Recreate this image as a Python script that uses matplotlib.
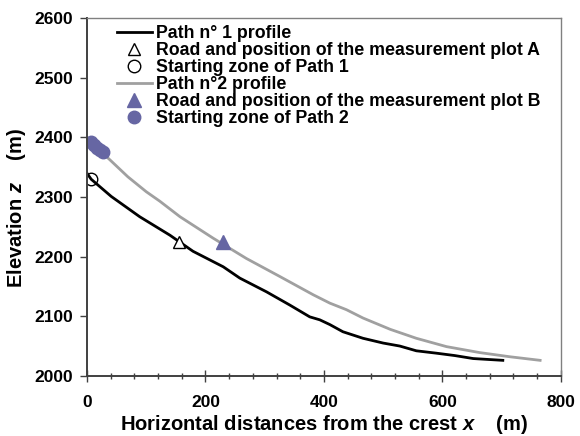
import matplotlib
matplotlib.use('Agg')
import matplotlib.pyplot as plt
from matplotlib.ticker import MultipleLocator

plt.rcParams['font.family'] = 'Liberation Sans'
plt.rcParams['font.weight'] = 'bold'
plt.rcParams['mathtext.fontset'] = 'custom'
plt.rcParams['mathtext.bfit'] = 'Liberation Sans:bold:italic'
plt.rcParams['mathtext.it'] = 'Liberation Sans:bold:italic'

# path 1 profile (black)
path1_x = [0, 7, 41, 89, 140, 179, 230, 258, 303, 342, 376, 393, 410, 432,
           466, 500, 528, 556, 590, 621, 652, 702]
path1_z = [2340, 2330, 2301, 2267, 2236, 2209, 2183, 2164, 2141, 2119, 2099,
           2094, 2086, 2074, 2063, 2055, 2050, 2042, 2038, 2034, 2029, 2026]

# path 2 profile (grey)
path2_x = [0, 12, 36, 69, 100, 123, 157, 213, 269, 325, 382, 410, 438, 466,
           512, 556, 607, 663, 714, 765]
path2_z = [2393, 2384, 2365, 2334, 2309, 2293, 2267, 2231, 2197, 2167, 2136,
           2122, 2111, 2097, 2078, 2063, 2049, 2039, 2032, 2026]

# markers
plotA_x, plotA_z = [155], [2224]
start1_x, start1_z = [7], [2330]
plotB_x, plotB_z = [229], [2224]
start2_x = [7, 12, 17, 22, 27]
start2_z = [2392, 2388, 2383, 2379, 2375]

purple = '#6666a3'

fig = plt.figure(figsize=(5.8, 4.36), dpi=100)
ax = fig.add_axes([0.150, 0.138, 0.817, 0.820])

ax.plot(path1_x, path1_z, color='black', lw=2, label='Path n° 1 profile')
ax.plot(plotA_x, plotA_z, ls='none', marker='^', ms=9, mfc='white', mec='black',
        mew=1, label='Road and position of the measurement plot A')
ax.plot(start1_x, start1_z, ls='none', marker='o', ms=9, mfc='none', mec='black',
        mew=1, label='Starting zone of Path 1')
ax.plot(path2_x, path2_z, color='#a0a0a0', lw=2, label='Path n°2 profile')
ax.plot(plotB_x, plotB_z, ls='none', marker='^', ms=10, color=purple,
        label='Road and position of the measurement plot B')
ax.plot(start2_x, start2_z, ls='none', marker='o', ms=9, color=purple,
        label='Starting zone of Path 2')

ax.set_xlim(0, 800)
ax.set_ylim(2000, 2600)
ax.xaxis.set_major_locator(MultipleLocator(200))
ax.xaxis.set_minor_locator(MultipleLocator(40))
ax.yaxis.set_major_locator(MultipleLocator(100))

ax.tick_params(axis='x', which='major', direction='inout', length=8, width=1,
               pad=10, labelsize=12.5, color='#404040')
ax.tick_params(axis='x', which='minor', direction='inout', length=5, width=1,
               color='#404040')
ax.tick_params(axis='y', which='major', direction='out', length=5, width=1,
               pad=5, labelsize=12.5, color='#404040')

for side in ['left', 'bottom']:
    ax.spines[side].set_color('#404040')
    ax.spines[side].set_linewidth(1.4)
for side in ['top', 'right']:
    ax.spines[side].set_color('#808080')
    ax.spines[side].set_linewidth(1)

ax.set_xlabel(r'Horizontal distances from the crest $\mathit{x}$    (m)',
              fontsize=14.5, fontweight='bold')
ax.set_ylabel(r'Elevation $\mathit{z}$    (m)', fontsize=14.5, fontweight='bold')
ax.xaxis.set_label_coords(0.5, -0.104)
ax.yaxis.set_label_coords(-0.124, 0.468)

leg = ax.legend(loc='upper left', bbox_to_anchor=(0.063, 0.982), frameon=False,
                fontsize=12.8, handlelength=1.95, handletextpad=0.25,
                labelspacing=0.0, borderpad=0, borderaxespad=0)
for t in leg.get_texts():
    t.set_fontweight('bold')

fig.savefig('out.png', dpi=100)
